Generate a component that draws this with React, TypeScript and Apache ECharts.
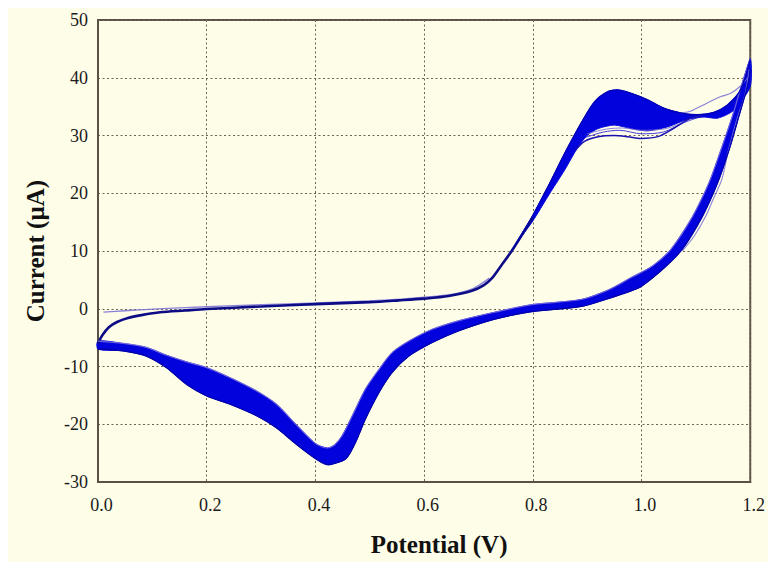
import React, { useEffect, useRef } from "react";
import * as echarts from "echarts";

// ---- Data (potential in V, current in µA) ----
const xTicks = [0, 0.2, 0.4, 0.6, 0.8, 1.0, 1.2];
const yTicks = [-30, -20, -10, 0, 10, 20, 30, 40, 50];

// forward scan, common (narrow) part
const forwardScan: number[][] = [
  [0.0, -6.0], [0.008, -4.6], [0.02, -3.2], [0.035, -2.3], [0.055, -1.6], [0.08, -1.1],
  [0.114, -0.6], [0.16, -0.3], [0.2, -0.05], [0.3, 0.4], [0.4, 0.8], [0.5, 1.15],
  [0.553, 1.45], [0.6, 1.75], [0.645, 2.2], [0.688, 3.1], [0.71, 4.1], [0.724, 5.2],
  [0.742, 7.5], [0.761, 10.0], [0.78, 12.8], [0.8, 15.8],
];

// first cycle start (thin light line)
const firstScan: number[][] = [
  [0.01, -0.6], [0.05, -0.35], [0.1, -0.05], [0.2, 0.35], [0.3, 0.7], [0.4, 1.0],
  [0.5, 1.35], [0.55, 1.6], [0.6, 2.0], [0.65, 2.5], [0.69, 3.5], [0.72, 5.3],
];

// anodic band (forward scan, all cycles)
const anodicUpper: number[][] = [
  [0.761, 10.0], [0.78, 13.0], [0.8, 16.2], [0.828, 21.2], [0.859, 27.0], [0.889, 32.2],
  [0.914, 35.9], [0.938, 37.6], [0.956, 37.9], [0.981, 37.3], [1.011, 36.2], [1.042, 34.7],
  [1.078, 33.8], [1.103, 33.6], [1.133, 34.0], [1.158, 35.3], [1.182, 37.9], [1.2, 43.2],
];
const anodicLower: number[][] = [
  [0.761, 10.0], [0.78, 12.6], [0.8, 15.2], [0.828, 19.5], [0.859, 24.1], [0.883, 28.0],
  [0.9, 30.0], [0.92, 31.2], [0.95, 31.8], [0.981, 31.2], [1.011, 30.8], [1.048, 31.5],
  [1.085, 32.8], [1.115, 33.2], [1.14, 33.0], [1.17, 34.4], [1.2, 38.5],
];
const anodicLowest: number[][] = [
  [0.878, 27.4], [0.895, 29.0], [0.92, 29.8], [0.95, 30.0], [0.975, 29.8], [0.999, 29.5],
  [1.03, 29.8], [1.06, 31.3], [1.09, 33.0], [1.11, 33.4],
];
const anodicStrayA: number[][] = [
  [0.895, 29.6], [0.93, 30.6], [0.96, 30.9], [1.0, 30.3], [1.04, 30.6], [1.08, 32.3], [1.11, 33.3],
];
const anodicStrayB: number[][] = [
  [0.9, 30.3], [0.935, 31.1], [0.965, 31.3], [1.0, 30.9], [1.045, 31.2], [1.085, 32.6],
];
const anodicStrayHigh: number[][] = [
  [1.07, 33.9], [1.09, 34.2], [1.12, 35.6], [1.145, 36.7], [1.164, 37.3], [1.18, 38.4], [1.2, 40.5],
];

// reverse scan band (all cycles): inner (upper/left) and outer (lower/right) edges
const reverseInner: number[][] = [
  [1.2, 43.3], [1.185, 39.0], [1.167, 33.3], [1.146, 27.5], [1.124, 21.8], [1.094, 16.0],
  [1.054, 10.3], [1.02, 7.4], [0.981, 5.4], [0.94, 3.3], [0.889, 1.6], [0.798, 0.7],
  [0.73, -0.6], [0.663, -2.1], [0.614, -3.6], [0.572, -5.6], [0.541, -7.6], [0.517, -10.5],
  [0.492, -13.9], [0.468, -18.5], [0.449, -22.0], [0.435, -23.6], [0.422, -24.1], [0.401, -23.4],
  [0.364, -20.0], [0.328, -16.5], [0.291, -14.2], [0.242, -11.9], [0.2, -10.2], [0.163, -9.2],
  [0.126, -8.05], [0.089, -6.7], [0.046, -6.0], [0.0, -5.6],
];
const reverseOuter: number[][] = [
  [1.2, 41.5], [1.196, 39.0], [1.179, 33.3], [1.161, 27.5], [1.14, 21.8], [1.112, 16.0],
  [1.075, 10.3], [1.042, 7.1], [1.0, 3.9], [0.981, 3.1], [0.94, 1.8], [0.889, 0.4],
  [0.798, -0.5], [0.73, -1.8], [0.663, -3.85], [0.614, -5.9], [0.572, -8.2], [0.541, -11.05],
  [0.517, -14.5], [0.492, -19.1], [0.474, -23.1], [0.456, -26.0], [0.431, -26.9], [0.422, -27.0],
  [0.401, -26.0], [0.364, -23.4], [0.328, -20.6], [0.291, -18.5], [0.242, -16.5], [0.2, -15.1],
  [0.163, -13.1], [0.126, -10.2], [0.089, -8.2], [0.046, -7.3], [0.0, -7.0],
];
const reverseStray: number[][] = [
  [1.198, 41.5], [1.19, 37.0], [1.176, 33.0], [1.16, 27.5], [1.148, 22.5], [1.132, 19.0],
  [1.118, 16.0], [1.097, 12.6], [1.075, 10.0],
];

const SERIF = "'Liberation Serif', 'Times New Roman', serif";
const BAND_BLUE = "#0202dc";
const DARK = "#0c0c86";
const LIGHT = "rgba(118, 108, 214, 0.85)";

const bands = [
  { upper: anodicUpper, lower: anodicLower },
  { upper: reverseInner, lower: reverseOuter },
];

function lineSeries(data: number[][], color: string, width: number, z = 3) {
  return {
    type: "line",
    data,
    showSymbol: false,
    symbol: "none",
    smooth: 0.3,
    z,
    silent: true,
    lineStyle: { color, width },
  };
}

export default function App() {
  const ref = useRef<HTMLDivElement>(null);

  useEffect(() => {
    if (!ref.current) return;
    const chart = echarts.init(ref.current, undefined, { renderer: "svg" });
    const option: any = {
      animation: false,
      backgroundColor: "#FEFDE8",
      grid: {
        left: 90,
        top: 12,
        width: 655,
        height: 463,
        show: true,
        borderColor: "#5a5046",
        borderWidth: 2,
        backgroundColor: "transparent",
      },
      xAxis: {
        type: "value",
        min: xTicks[0],
        max: xTicks[xTicks.length - 1],
        interval: 0.2,
        name: "Potential (V)",
        nameLocation: "middle",
        nameGap: 50,
        nameTextStyle: {
          fontFamily: SERIF,
          fontSize: 25,
          fontWeight: "bold",
          color: "#111",
          padding: [0, 0, 0, 30],
        },
        axisLine: { show: true, onZero: false, lineStyle: { color: "#5a5046", width: 2 } },
        axisTick: { show: false },
        axisLabel: {
          margin: 14,
          fontFamily: SERIF,
          fontSize: 18,
          color: "#1a1a1a",
          padding: [0, 0, 0, 7],
          formatter: (v: number) => v.toFixed(1),
        },
        splitLine: { show: true, lineStyle: { color: "#6e6254", type: [2, 2.5], width: 1 } },
      },
      yAxis: {
        type: "value",
        min: yTicks[0],
        max: yTicks[yTicks.length - 1],
        interval: 10,
        name: "Current (µA)",
        nameLocation: "middle",
        nameRotate: 90,
        nameGap: 50,
        nameTextStyle: {
          fontFamily: SERIF,
          fontSize: 25,
          fontWeight: "bold",
          color: "#111",
        },
        axisLine: { show: true, onZero: false, lineStyle: { color: "#5a5046", width: 2 } },
        axisTick: { show: false },
        axisLabel: {
          margin: 10,
          fontFamily: SERIF,
          fontSize: 18,
          color: "#1a1a1a",
        },
        splitLine: { show: true, lineStyle: { color: "#6e6254", type: [2, 2.5], width: 1 } },
      },
      series: [
        {
          type: "custom",
          silent: true,
          z: 2,
          data: bands.map(() => [0.5, 0]),
          renderItem: (params: any, api: any) => {
            const b = bands[params.dataIndex];
            const pts = b.upper.concat(b.lower.slice().reverse()).map((p) => api.coord(p));
            return {
              type: "polygon",
              shape: { points: pts, smooth: 0.25 },
              style: { fill: BAND_BLUE, stroke: BAND_BLUE, lineWidth: 1 },
            };
          },
        },
        lineSeries(firstScan, LIGHT, 1.3, 3),
        lineSeries(forwardScan, DARK, 2.6, 4),
        lineSeries(anodicStrayA, "rgba(40, 30, 220, 0.85)", 1, 4),
        lineSeries(anodicStrayB, LIGHT, 1, 4),
        lineSeries(anodicLowest, "#1a12b0", 1.5, 4),
        lineSeries(anodicStrayHigh, LIGHT, 1.1, 4),
        lineSeries(reverseStray, LIGHT, 1.1, 4),
        lineSeries(reverseInner, "rgba(130, 118, 222, 0.8)", 1.2, 4),
        lineSeries(reverseOuter, "#0000a8", 1.2, 4),
        lineSeries(anodicUpper, "#0000b0", 1.2, 4),
      ],
    };
    chart.setOption(option);
    return () => chart.dispose();
  }, []);

  return (
    <div
      ref={ref}
      style={{ position: "absolute", left: 8, top: 8, width: 760, height: 554, background: "#FEFDE8" }}
    />
  );
}
